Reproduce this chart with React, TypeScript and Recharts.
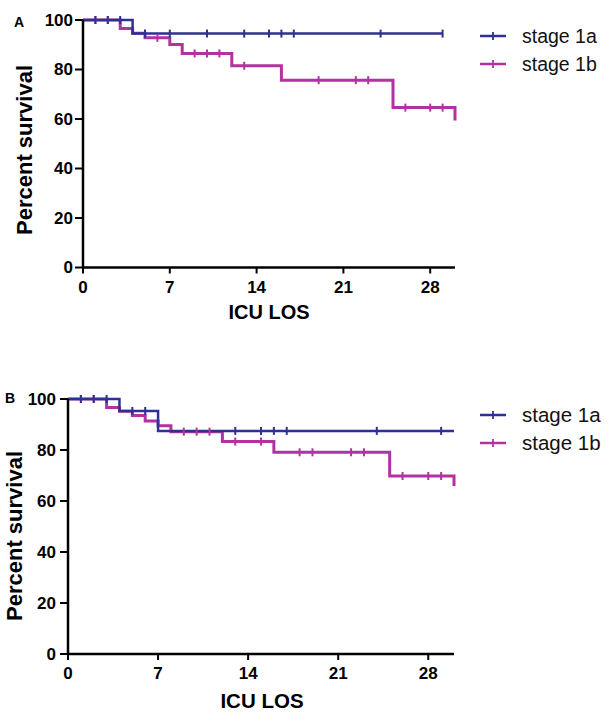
import React from 'react';
import { ComposedChart, Line, Scatter, XAxis, YAxis, Legend } from 'recharts';

const xTicks = [0, 7, 14, 21, 28];
const yTicks = [0, 20, 40, 60, 80, 100];
const seriesNames = ['stage 1a', 'stage 1b'];

// Panel A
const aStage1aTimes = [0, 4, 29];
const aStage1aSurvival = [100, 94.5, 94.5];
const aStage1aCensored = [1, 2, 3, 5, 7, 10, 13, 15, 16, 17, 24, 29];
const aStage1bTimes = [0, 3, 4, 5, 7, 8, 12, 16, 25, 30];
const aStage1bSurvival = [100, 96.6, 94.6, 92.8, 90.1, 86.5, 81.5, 75.7, 64.6, 59.4];
const aStage1bCensored = [1, 2, 6, 9, 10, 11, 13, 19, 22, 23, 26, 28, 29];

// Panel B
const bStage1aTimes = [0, 4, 7, 30];
const bStage1aSurvival = [100, 95.3, 87.5, 87.5];
const bStage1aCensored = [1, 2, 3, 5, 6, 13, 15, 16, 17, 24, 29];
const bStage1bTimes = [0, 3, 4, 5, 6, 7, 8, 12, 16, 25, 30];
const bStage1bSurvival = [100, 96.7, 95.2, 93.5, 91.4, 89.5, 87.2, 83.3, 79.1, 69.8, 65.9];
const bStage1bCensored = [1, 2, 9, 10, 11, 13, 15, 18, 19, 22, 23, 26, 28, 29];

const BLUE = '#2E3192';
const PINK = '#B2329F';
const FONT = '"Liberation Sans", Arial, sans-serif';

const toSteps = (times: number[], surv: number[]) => times.map((t, i) => ({ x: t, y: surv[i] }));
const survAt = (times: number[], surv: number[], t: number) => {
  let v = surv[0];
  for (let i = 0; i < times.length; i++) if (times[i] <= t) v = surv[i];
  return v;
};
const toCensor = (times: number[], surv: number[], cens: number[]) =>
  cens.map((t) => ({ x: t, y: survAt(times, surv, t) }));

const CensorMark = (color: string, w: number) => (props: any) => {
  const { cx, cy } = props;
  if (cx == null || cy == null) return <g />;
  return <line x1={cx} x2={cx} y1={cy - 4} y2={cy + 4} stroke={color} strokeWidth={w} />;
};

type Cfg = {
  top: number;
  height: number;
  plotTop: number;
  plotBottom: number;
  plotLeft: number;
  plotRight: number;
  tickFs: number;
  xTickMargin: number;
  yTickMargin: number;
  yLabel: { x: number; y: number; fs: number };
  xLabel: { x: number; y: number; fs: number };
  letter: { text: string; x: number; y: number };
  legend: { left: number; top: number; gap: number; fs: number };
  s1a: { times: number[]; surv: number[]; cens: number[] };
  s1b: { times: number[]; surv: number[]; cens: number[] };
};

const panels: Cfg[] = [
  {
    top: 0,
    height: 335,
    plotTop: 20,
    plotBottom: 267.5,
    plotLeft: 83,
    plotRight: 455,
    tickFs: 17,
    xTickMargin: 7,
    yTickMargin: 2,
    yLabel: { x: 31.5, y: 150, fs: 22 },
    xLabel: { x: 269, y: 319, fs: 20 },
    letter: { text: 'A', x: 14, y: 27 },
    legend: { left: 480, top: 22, gap: 28, fs: 19.5 },
    s1a: { times: aStage1aTimes, surv: aStage1aSurvival, cens: aStage1aCensored },
    s1b: { times: aStage1bTimes, surv: aStage1bSurvival, cens: aStage1bCensored },
  },
  {
    top: 340,
    height: 373,
    plotTop: 59,
    plotBottom: 314,
    plotLeft: 68,
    plotRight: 454,
    tickFs: 17,
    xTickMargin: 7,
    yTickMargin: 4,
    yLabel: { x: 22, y: 196, fs: 22 },
    xLabel: { x: 262, y: 368, fs: 20.5 },
    letter: { text: 'B', x: 5, y: 63 },
    legend: { left: 480, top: 61, gap: 28, fs: 20.5 },
    s1a: { times: bStage1aTimes, surv: bStage1aSurvival, cens: bStage1aCensored },
    s1b: { times: bStage1bTimes, surv: bStage1bSurvival, cens: bStage1bCensored },
  },
];

const XTick = (fs: number) => (props: any) => {
  const { x, y, payload } = props;
  return (
    <text x={x} y={y} dy={fs * 0.71} textAnchor="middle" fontSize={fs} fontWeight="bold" fill="#000" fontFamily={FONT}>
      {payload.value}
    </text>
  );
};
const YTick = (fs: number) => (props: any) => {
  const { x, y, payload } = props;
  return (
    <text x={x} y={y} dy={fs * 0.35} textAnchor="end" fontSize={fs} fontWeight="bold" fill="#000" fontFamily={FONT}>
      {payload.value}
    </text>
  );
};

function Panel({ cfg }: { cfg: Cfg }) {
  const colors = [BLUE, PINK];
  const lg = cfg.legend;
  return (
    <div style={{ position: 'absolute', left: 0, top: cfg.top, width: 610, height: cfg.height }}>
      <ComposedChart
        width={610}
        height={cfg.height}
        margin={{ top: cfg.plotTop, right: 610 - cfg.plotRight, left: 0, bottom: 0 }}
      >
        <XAxis
          type="number"
          dataKey="x"
          domain={[0, 30]}
          ticks={xTicks}
          height={cfg.height - cfg.plotBottom}
          axisLine={{ stroke: '#000', strokeWidth: 2.5 }}
          tickLine={{ stroke: '#000', strokeWidth: 2 }}
          tickSize={6}
          tickMargin={cfg.xTickMargin}
          tick={XTick(cfg.tickFs)}
          label={() => (
            <text x={cfg.xLabel.x} y={cfg.xLabel.y} textAnchor="middle" fontSize={cfg.xLabel.fs} fontWeight="bold" fontFamily={FONT} fill="#000">
              ICU LOS
            </text>
          )}
        />
        <YAxis
          type="number"
          dataKey="y"
          domain={[0, 100]}
          ticks={yTicks}
          width={cfg.plotLeft}
          axisLine={{ stroke: '#000', strokeWidth: 2.5 }}
          tickLine={{ stroke: '#000', strokeWidth: 2 }}
          tickSize={8}
          tickMargin={cfg.yTickMargin}
          tick={YTick(cfg.tickFs)}
          label={() => (
            <g>
              <text x={cfg.letter.x} y={cfg.letter.y} fontSize={14} fontWeight="bold" fontFamily={FONT} fill="#000">
                {cfg.letter.text}
              </text>
              <text
                transform={`translate(${cfg.yLabel.x},${cfg.yLabel.y}) rotate(-90)`}
                textAnchor="middle"
                fontSize={cfg.yLabel.fs}
                fontWeight="bold"
                fontFamily={FONT}
                fill="#000"
              >
                Percent survival
              </text>
            </g>
          )}
        />
        <Legend
          layout="vertical"
          align="center"
          verticalAlign="middle"
          wrapperStyle={{ position: 'absolute', left: lg.left, top: lg.top, width: 128, height: 60 }}
          content={() => (
            <svg width={128} height={60}>
              {seriesNames.map((name, i) => {
                const y = 14 + i * lg.gap;
                return (
                  <g key={name}>
                    <line x1={0} x2={26} y1={y} y2={y} stroke={colors[i]} strokeWidth={2.5} />
                    <line x1={13} x2={13} y1={y - 4} y2={y + 4} stroke={colors[i]} strokeWidth={1.8} />
                    <text x={42} y={y} dy={lg.fs * 0.35} fontSize={lg.fs} fontFamily={FONT} fill="#111">
                      {name}
                    </text>
                  </g>
                );
              })}
            </svg>
          )}
        />
        <Line
          name={seriesNames[1]}
          data={toSteps(cfg.s1b.times, cfg.s1b.surv)}
          dataKey="y"
          type="stepAfter"
          stroke={PINK}
          strokeWidth={3}
          dot={false}
          activeDot={false}
          isAnimationActive={false}
        />
        <Scatter
          name="c1b"
          legendType="none"
          data={toCensor(cfg.s1b.times, cfg.s1b.surv, cfg.s1b.cens)}
          dataKey="y"
          shape={CensorMark(PINK, 2)}
          isAnimationActive={false}
        />
        <Line
          name={seriesNames[0]}
          data={toSteps(cfg.s1a.times, cfg.s1a.surv)}
          dataKey="y"
          type="stepAfter"
          stroke={BLUE}
          strokeWidth={2.5}
          dot={false}
          activeDot={false}
          isAnimationActive={false}
        />
        <Scatter
          name="c1a"
          legendType="none"
          data={toCensor(cfg.s1a.times, cfg.s1a.surv, cfg.s1a.cens)}
          dataKey="y"
          shape={CensorMark(BLUE, 2)}
          isAnimationActive={false}
        />
      </ComposedChart>
    </div>
  );
}

export default function App() {
  return (
    <div style={{ position: 'absolute', left: 0, top: 0, width: 610, height: 713, background: '#fff', overflow: 'hidden' }}>
      {panels.map((p, i) => (
        <Panel key={i} cfg={p} />
      ))}
    </div>
  );
}
